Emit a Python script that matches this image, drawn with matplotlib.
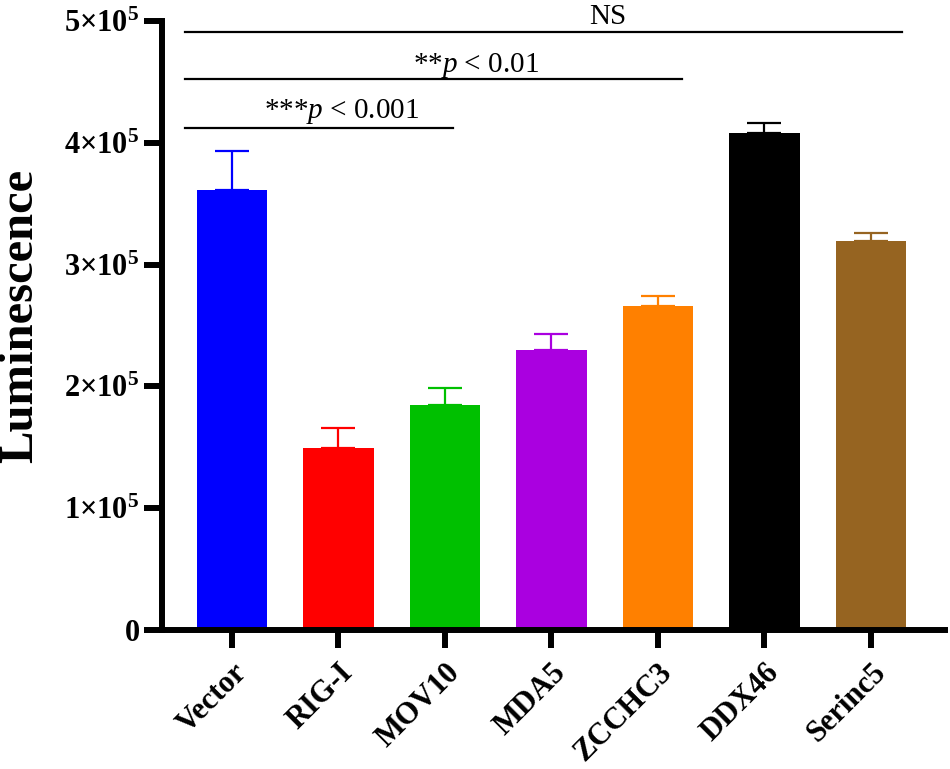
import numpy as np
import matplotlib
matplotlib.use("Agg")
import matplotlib.pyplot as plt

plt.rcParams["font.family"] = ["Liberation Serif", "DejaVu Serif"]
plt.rcParams["mathtext.fontset"] = "custom"
plt.rcParams["mathtext.rm"] = "Liberation Serif"
plt.rcParams["mathtext.it"] = "Liberation Serif:italic"
plt.rcParams["mathtext.bf"] = "Liberation Serif:bold"

# data
groups = ["Vector", "RIG-I", "MOV10", "MDA5", "ZCCHC3", "DDX46", "Serinc5"]
means = [3.61e5, 1.49e5, 1.85e5, 2.30e5, 2.66e5, 4.08e5, 3.19e5]
errors = [0.32e5, 0.17e5, 0.14e5, 0.13e5, 0.08e5, 0.08e5, 0.07e5]
colors = ["#0000FF", "#FF0000", "#00C000", "#AA00E0", "#FF8000", "#000000", "#966421"]

yticks = [0, 1e5, 2e5, 3e5, 4e5, 5e5]
ytick_labels = ["0"] + [r"$\mathbf{%d{\times}10^{5}}$" % k for k in range(1, 6)]

# significance brackets: (start, end, height, label, label x, label baseline)
sig_lines = [
    (-0.44, 6.29, 4.91e5, "NS", 3.53, 4.975e5),
    (-0.44, 4.23, 4.52e5, r"**$p$ < 0.01", 2.29, 4.58e5),
    (-0.44, 2.08, 4.12e5, r"***$p$ < 0.001", 1.03, 4.20e5),
]

fig = plt.figure(figsize=(9.5, 7.69), dpi=100)
ax = fig.add_axes([0.1705, 0.1808, 0.8242, 0.7919])

x = np.arange(len(groups))
ax.bar(x, means, width=0.66, color=colors, zorder=2)
for xi, m, e, c in zip(x, means, errors, colors):
    ax.errorbar(xi, m, yerr=[[0], [e]], fmt="none", ecolor=c,
                elinewidth=1.6, capsize=12, capthick=1.6, zorder=1)

ax.set_xlim(-0.657, 6.695)
ax.set_ylim(0, 5e5)

for spine in ["top", "right"]:
    ax.spines[spine].set_visible(False)
for spine in ["left", "bottom"]:
    ax.spines[spine].set_linewidth(4.3)
    ax.spines[spine].set_capstyle("projecting")

ax.set_yticks(yticks)
ax.set_yticklabels(ytick_labels, fontsize=22, fontweight="bold")
ax.set_xticks(x)
ax.set_xticklabels(groups, fontsize=22, fontweight="bold", rotation=45,
                   ha="right", rotation_mode="anchor")
ax.tick_params(axis="both", direction="out", length=13, width=4.3)
ax.tick_params(axis="y", pad=3)
ax.tick_params(axis="x", pad=7)

ax.set_ylabel("Luminescence", fontsize=35, fontweight="bold")
ax.yaxis.set_label_coords(-0.153, 0.515)

for x0, x1, h, label, tx, ty in sig_lines:
    ax.plot([x0, x1], [h, h], color="black", lw=1.6, clip_on=False)
    ax.text(tx, ty, label, fontsize=21, ha="center", va="baseline", clip_on=False)

fig.savefig("out.png", dpi=100)
